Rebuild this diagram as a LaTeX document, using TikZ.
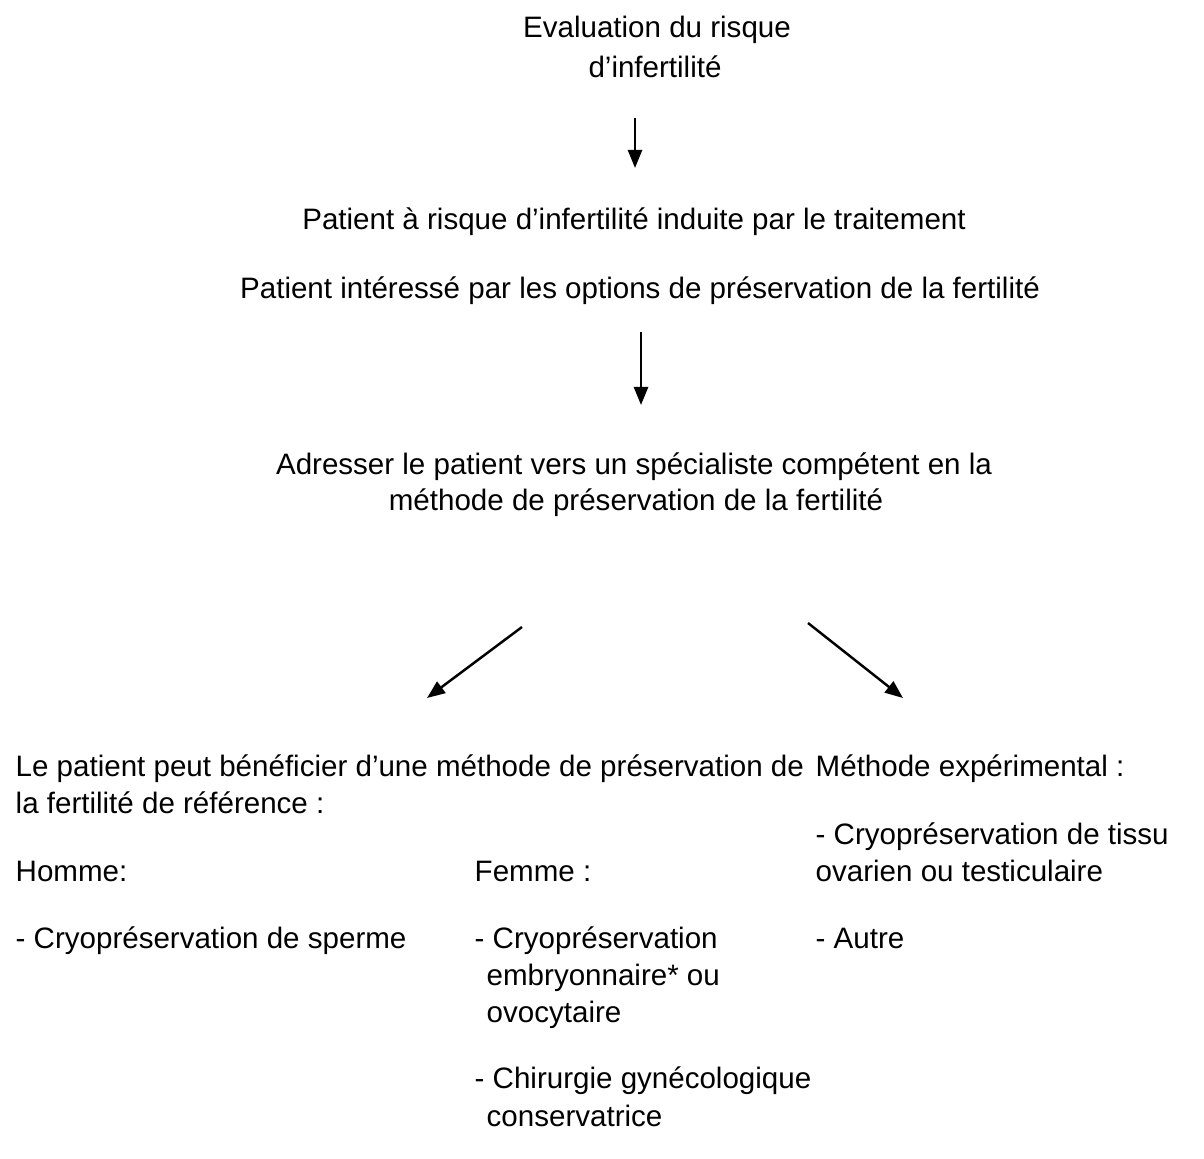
\documentclass[tikz,border=0pt]{standalone}
\usepackage{fontspec}
\setmainfont{Liberation Sans}
\usetikzlibrary{arrows.meta}
\begin{document}
\begin{tikzpicture}[x=0.01cm,y=-0.01cm,
  txt/.style={inner sep=0pt, anchor=base west, font=\fontsize{8.4pt}{10pt}\selectfont},
  ctr/.style={txt, anchor=base},
  arr/.style={line width=0.7pt, -{Triangle[length=0.18cm,width=0.14cm]}}]
\useasboundingbox (0,0) rectangle (1204,1158);
% top
\node[ctr] (eval1) at (657,38) {Evaluation du risque};
\node[ctr] (eval2) at (655,78) {d’infertilité};
\coordinate (a1s) at (635,118);
\coordinate (a1e) at (635,168);
\draw[arr] (a1s) -- (a1e);
\node[ctr] (risk) at (634,230) {Patient à risque d’infertilité induite par le traitement};
\node[ctr] (inter) at (640,298) {Patient intéressé par les options de préservation de la fertilité};
\coordinate (a2s) at (641,332);
\coordinate (a2e) at (641,405);
\draw[arr] (a2s) -- (a2e);
\node[ctr] (adr1) at (634,474) {Adresser le patient vers un spécialiste compétent en la};
\node[ctr] (adr2) at (636,510) {méthode de préservation de la fertilité};
\coordinate (a3s) at (522,627);
\coordinate (a3e) at (427,698);
\draw[arr] (a3s) -- (a3e);
\coordinate (a4s) at (808,623);
\coordinate (a4e) at (903,698);
\draw[arr] (a4s) -- (a4e);
% left column
\node[txt] (ref1) at (15,776) {Le patient peut bénéficier d’une méthode de préservation de};
\node[txt] (ref2) at (15,813) {la fertilité de référence :};
\node[txt] (homme) at (15,881) {Homme:};
\node[txt] (sperme) at (15,948) {- Cryopréservation de sperme};
\node[txt] (femme) at (474,881) {Femme :};
\node[txt] (f1a) at (474,948) {- Cryopréservation};
\node[txt] (f1b) at (486,985) {embryonnaire* ou};
\node[txt] (f1c) at (486,1022) {ovocytaire};
\node[txt] (f2a) at (474,1088) {- Chirurgie gynécologique};
\node[txt] (f2b) at (486,1126) {conservatrice};
% right column
\node[txt] (exp) at (815,776) {Méthode expérimental :};
\node[txt] (t1a) at (815,844) {- Cryopréservation de tissu};
\node[txt] (t1b) at (815,881) {ovarien ou testiculaire};
\node[txt] (autre) at (815,948) {- Autre};
\end{tikzpicture}
\end{document}
